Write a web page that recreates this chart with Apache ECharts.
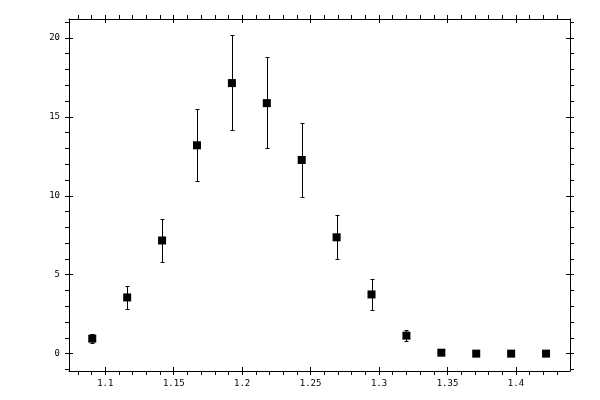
<!DOCTYPE html>
<html>
<head>
<meta charset="utf-8">
<script src="https://cdn.jsdelivr.net/npm/echarts@6/dist/echarts.min.js"></script>
<style>
  html, body { margin: 0; background: #fff; }
  #chart { width: 600px; height: 400px; }
</style>
</head>
<body>
<div id="chart"></div>
<script>
// data
const xValues = [1.0905, 1.116, 1.1415, 1.167, 1.1925, 1.218, 1.2435, 1.269, 1.2945, 1.32, 1.3455, 1.371, 1.3965, 1.422];
const yValues = [0.95, 3.56, 7.17, 13.2, 17.14, 15.87, 12.27, 7.37, 3.75, 1.14, 0.06, 0, 0, 0];
const errLow  = [0.68, 2.81, 5.78, 10.92, 14.16, 13.02, 9.9, 5.97, 2.79, 0.83, 0.06, 0, 0, 0];
const errHigh = [1.22, 4.29, 8.55, 15.47, 20.19, 18.79, 14.58, 8.76, 4.70, 1.52, 0.06, 0, 0, 0];

const xMajor = [1.1, 1.15, 1.2, 1.25, 1.3, 1.35, 1.4];
const xMinor = [1.08, 1.09, 1.1, 1.11, 1.12, 1.13, 1.14, 1.15, 1.16, 1.17, 1.18, 1.19, 1.2, 1.21, 1.22,
  1.23, 1.24, 1.25, 1.26, 1.27, 1.28, 1.29, 1.3, 1.31, 1.32, 1.33, 1.34, 1.35, 1.36, 1.37, 1.38, 1.39,
  1.4, 1.41, 1.42, 1.43];
const yMajor = [0, 5, 10, 15, 20];
const yMinor = [-1, 0, 1, 2, 3, 4, 5, 6, 7, 8, 9, 10, 11, 12, 13, 14, 15, 16, 17, 18, 19, 20, 21];

const X_MIN = 1.0735, X_MAX = 1.4395;
const Y_MIN = -1.1, Y_MAX = 21.2;

const black = '#000';
const labelFont = { color: black, fontFamily: 'DejaVu Sans Mono', fontSize: 9 };

// one axis with outside ticks (all), one with inside ticks (majors only)
function axesFor(position, min, max, major, minor, withLabels, margin) {
  return [
    {
      type: 'value', position: position, min: min, max: max,
      axisLine: { show: true, onZero: false, lineStyle: { color: black, width: 1 } },
      axisTick: { show: true, inside: false, length: 4, customValues: minor, lineStyle: { color: black } },
      axisLabel: withLabels
        ? Object.assign({ show: true, customValues: major, margin: margin, formatter: v => String(+v.toFixed(2)) }, labelFont)
        : { show: false },
      splitLine: { show: false }
    },
    {
      type: 'value', position: position, min: min, max: max,
      axisLine: { show: false, onZero: false },
      axisTick: { show: true, inside: true, length: 4, customValues: major, lineStyle: { color: black } },
      axisLabel: { show: false },
      splitLine: { show: false }
    }
  ];
}

const xAxes = axesFor('bottom', X_MIN, X_MAX, xMajor, xMinor, true, 8)
  .concat(axesFor('top', X_MIN, X_MAX, xMajor, xMinor, false));
const yAxes = axesFor('left', Y_MIN, Y_MAX, yMajor, yMinor, true, 9)
  .concat(axesFor('right', Y_MIN, Y_MAX, yMajor, yMinor, false));

const points = xValues.map((x, i) => [x, yValues[i]]);
const bars = xValues.map((x, i) => [x, errLow[i], errHigh[i]]);

const chart = echarts.init(document.getElementById('chart'), null, { renderer: 'canvas' });
chart.setOption({
  animation: false,
  backgroundColor: '#fff',
  grid: { left: 69, top: 19, width: 501, height: 352, containLabel: false },
  xAxis: xAxes,
  yAxis: yAxes,
  series: [
    {
      type: 'custom',
      xAxisIndex: 0, yAxisIndex: 0,
      data: bars,
      renderItem: function (params, api) {
        const top = api.coord([api.value(0), api.value(2)]);
        const bot = api.coord([api.value(0), api.value(1)]);
        const x = Math.round(top[0]) + 0.5;
        const y1 = Math.round(top[1]) + 0.5;
        const y2 = Math.round(bot[1]) + 0.5;
        const style = { stroke: black, lineWidth: 1 };
        return {
          type: 'group',
          children: [
            { type: 'line', shape: { x1: x, y1: y1, x2: x, y2: y2 }, style: style },
            { type: 'line', shape: { x1: x - 2, y1: y1, x2: x + 2, y2: y1 }, style: style },
            { type: 'line', shape: { x1: x - 2, y1: y2, x2: x + 2, y2: y2 }, style: style }
          ]
        };
      },
      z: 2
    },
    {
      type: 'scatter',
      xAxisIndex: 0, yAxisIndex: 0,
      data: points,
      symbol: 'rect',
      symbolSize: 8,
      itemStyle: { color: black, opacity: 1 },
      z: 3
    }
  ]
});
</script>
</body>
</html>
